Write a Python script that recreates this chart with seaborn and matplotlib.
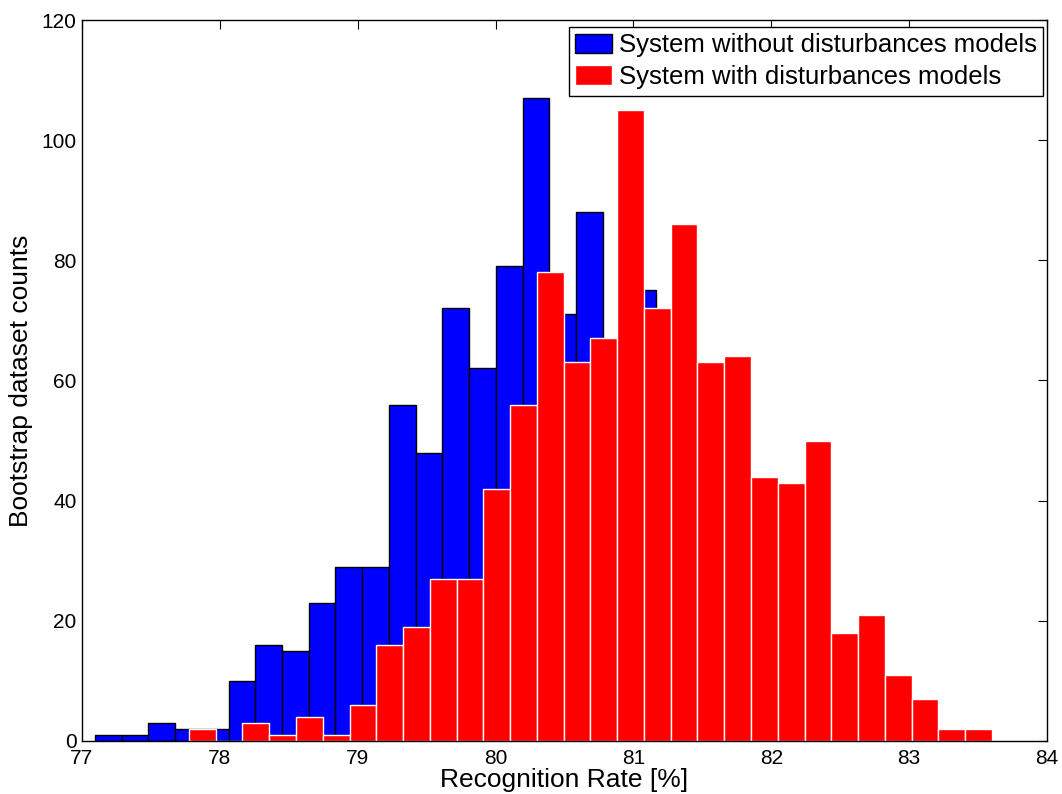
import numpy as np
import matplotlib
matplotlib.use("Agg")
import matplotlib.pyplot as plt
import seaborn as sns

# counts per bin (30 bins each, 1000 bootstrap datasets)
blue_counts = [1, 1, 3, 2, 2, 10, 16, 15, 23, 29, 29, 56, 48, 72, 62,
               79, 107, 71, 88, 58, 75, 50, 40, 25, 15, 10, 6, 4, 2, 1]
red_counts = [2, 0, 3, 1, 4, 1, 6, 16, 19, 27, 27, 42, 56, 78, 63,
              67, 105, 72, 86, 63, 64, 44, 43, 50, 18, 21, 11, 7, 2, 2]
# data range of each system (min, max recognition rate)
blue_range = (77.094, 82.91)
red_range = (77.776, 83.60)
n_bins = 30

label_blue = "System without disturbances models"
label_red = "System with disturbances models"


def centres(rng, n):
    edges = np.linspace(rng[0], rng[1], n + 1)
    return (edges[:-1] + edges[1:]) / 2


sns.set_style("white")
plt.rcParams["font.family"] = ["Liberation Sans", "DejaVu Sans"]
plt.rcParams["text.color"] = "black"
plt.rcParams["axes.labelcolor"] = "black"
plt.rcParams["xtick.color"] = "black"
plt.rcParams["ytick.color"] = "black"

fig = plt.figure(figsize=(10.62, 7.94), dpi=100)
ax = fig.add_axes([0.0772, 0.0668, 0.9087, 0.908])

sns.histplot(x=centres(blue_range, n_bins), weights=blue_counts, bins=n_bins,
             binrange=blue_range, color=(0, 0, 1), alpha=1, edgecolor="black",
             linewidth=1, label=label_blue, ax=ax)
sns.histplot(x=centres(red_range, n_bins), weights=red_counts, bins=n_bins,
             binrange=red_range, color=(1, 0, 0), alpha=1, edgecolor="white",
             linewidth=1, label=label_red, ax=ax)

ax.set_xlim(77, 84)
ax.set_ylim(0, 120)
ax.set_xticks(range(77, 85))
ax.set_yticks(range(0, 121, 20))
ax.tick_params(direction="in", length=6.5, width=0.8, top=True, right=True,
               labelsize=15, colors="black")
ax.tick_params(axis="x", pad=6)
ax.tick_params(axis="y", pad=4)
for s in ax.spines.values():
    s.set_color("black")
    s.set_linewidth(1)

ax.set_xlabel("Recognition Rate [%]", fontsize=19, labelpad=0)
ax.set_ylabel("Bootstrap dataset counts", fontsize=19, labelpad=6)

leg = ax.legend(loc="upper right", bbox_to_anchor=(0.9959, 0.9903),
                borderaxespad=0, fontsize=18.5, fancybox=False, framealpha=1,
                edgecolor="black", handlelength=1.45, handleheight=0.8,
                handletextpad=0.25, labelspacing=0.3, borderpad=0.25)
leg.get_frame().set_linewidth(1)

fig.savefig("out.png", dpi=100)
